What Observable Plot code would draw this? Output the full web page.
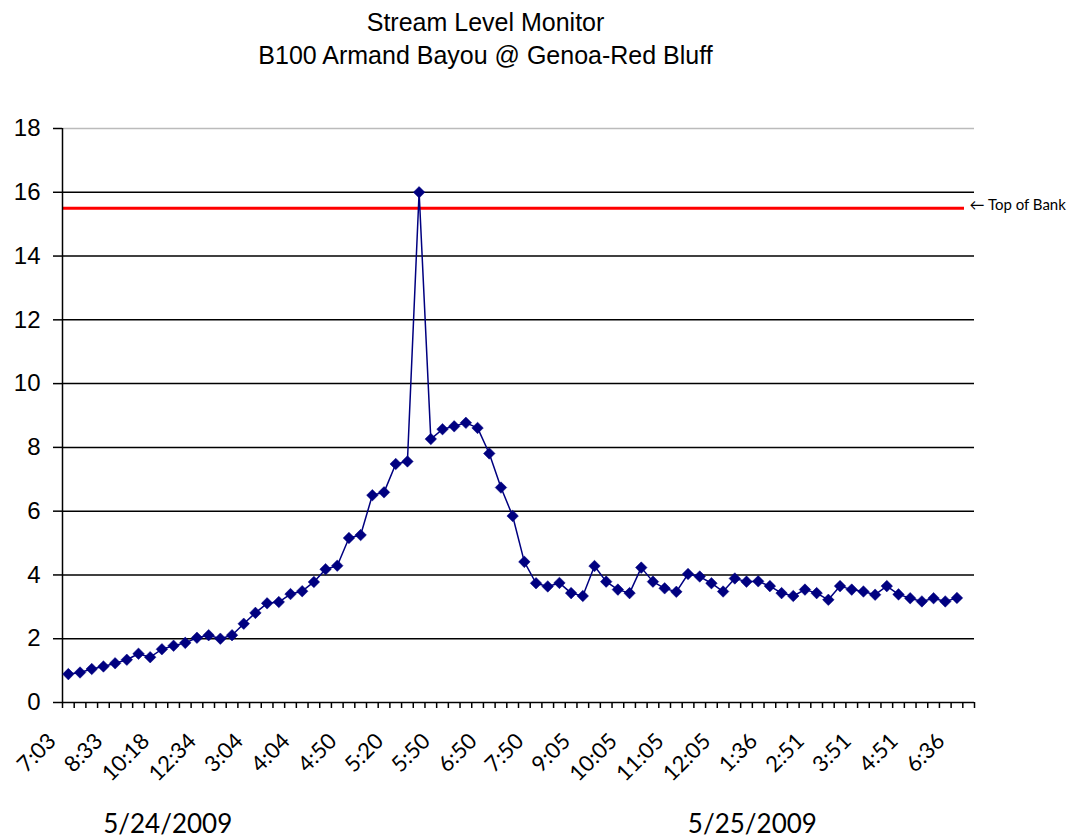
<!DOCTYPE html>
<html>
<head>
<meta charset="utf-8">
<script src="https://cdn.jsdelivr.net/npm/d3@7"></script>
<script src="https://cdn.jsdelivr.net/npm/@observablehq/plot@0.6"></script>
<style>
  html, body { margin: 0; padding: 0; background: #fff; overflow: hidden; }
  #chart svg { display: block; }
</style>
</head>
<body>
<div id="chart"></div>
<script>
// ---- data ----
const titleLines = ["Stream Level Monitor", "B100 Armand Bayou @ Genoa-Red Bluff"];
// stream level readings (ft), one per reading slot, in order
const levels = [
  0.89, 0.94, 1.05, 1.13, 1.23, 1.34, 1.53, 1.42, 1.67, 1.78,
  1.87, 2.03, 2.11, 2.00, 2.11, 2.47, 2.81, 3.11, 3.15, 3.40,
  3.49, 3.78, 4.18, 4.29, 5.16, 5.25, 6.50, 6.59, 7.48, 7.56,
  16.0, 8.26, 8.57, 8.66, 8.77, 8.61, 7.81, 6.74, 5.85, 4.41,
  3.74, 3.64, 3.75, 3.43, 3.34, 4.28, 3.79, 3.54, 3.43, 4.23,
  3.79, 3.58, 3.47, 4.03, 3.95, 3.74, 3.48, 3.89, 3.79, 3.80,
  3.65, 3.43, 3.34, 3.54, 3.43, 3.22, 3.65, 3.54, 3.48, 3.38,
  3.65, 3.39, 3.27, 3.17, 3.27, 3.17, 3.28
];
// category slots on the axis (one trailing empty slot)
const slotCount = 78;
// time labels shown on every 4th slot
const labelEvery = 4;
const timeLabels = ["7:03","8:33","10:18","12:34","3:04","4:04","4:50","5:20","5:50","6:50",
                    "7:50","9:05","10:05","11:05","12:05","1:36","2:51","3:51","4:51","6:36"];
const dateLabels = ["5/24/2009", "5/25/2009"];
const yTicks = [0, 2, 4, 6, 8, 10, 12, 14, 16, 18];
const topOfBank = 15.5;
const topOfBankLabel = "\u2190 Top of Bank";

// ---- derived tables ----
const data = levels.map((v, i) => ({slot: i + 0.5, level: v}));
const labelTable = timeLabels.map((t, k) => ({slot: k * labelEvery + 0.5, label: t}));
const slotEdges = d3.range(0, slotCount + 1);
const dateSlots = [labelTable[2].slot + 0.5, labelTable[14].slot + 2.5];

const W = 1069, H = 837;
const mL = 62, mR = 95, mT = 128, mB = 135;
const arialLike = "'Liberation Sans', Arial, sans-serif";
const calibriLike = "Lato, 'Open Sans', 'DejaVu Sans', sans-serif";

const chart = Plot.plot({
  width: W,
  height: H,
  marginLeft: mL,
  marginRight: mR,
  marginTop: mT,
  marginBottom: mB,
  style: {fontFamily: arialLike, background: "#fff", color: "#000", overflow: "visible"},
  x: {type: "linear", domain: [0, slotCount], axis: null},
  y: {domain: [0, 18], axis: null},
  marks: [
    // gridlines
    Plot.ruleY(yTicks.filter(t => t > 0 && t < 18), {stroke: "#000", strokeWidth: 1.5}),
    Plot.ruleY([18], {stroke: "#bbb", strokeWidth: 1.5}),
    // top of bank
    Plot.ruleY([topOfBank], {stroke: "#ff0000", strokeWidth: 3, insetRight: 10}),
    Plot.text([topOfBankLabel], {
      x: () => slotCount, y: () => topOfBank,
      textAnchor: "start", dx: -5, dy: -3, fontSize: 15, fontFamily: calibriLike, fill: "#000"
    }),
    // axes lines
    Plot.ruleY([0], {stroke: "#000", strokeWidth: 1.5}),
    Plot.ruleX([0], {stroke: "#000", strokeWidth: 1.5}),
    // y axis ticks + labels
    Plot.axisY({ticks: yTicks, tickSize: 9, tickFormat: () => "", stroke: "#000", strokeWidth: 1.5, label: null}),
    Plot.text(yTicks, {y: d => d, x: () => 0, textAnchor: "end", dx: -22, fontSize: 24, fontFamily: arialLike, fill: "#000"}),
    // x tick marks at slot edges
    Plot.axisX({ticks: slotEdges, tickSize: 6, tickFormat: () => "", stroke: "#000", strokeWidth: 1.5, label: null}),
    // x time labels
    Plot.text(labelTable, {x: "slot", y: () => 0, text: "label", textAnchor: "end", rotate: -45,
                           dx: -16, dy: 35, fontSize: 22, fontFamily: calibriLike, fill: "#000"}),
    // series
    Plot.line(data, {x: "slot", y: "level", stroke: "#000080", strokeWidth: 1.5}),
    Plot.dot(data, {x: "slot", y: "level", symbol: "diamond2", r: 5.2, fill: "#000080", stroke: "#000080", strokeWidth: 0.5}),
    // titles
    Plot.text([titleLines[0]], {frameAnchor: "top", dx: -33, dy: -115, fontSize: 25, fill: "#000"}),
    Plot.text([titleLines[1]], {frameAnchor: "top", dx: -33, dy: -82, fontSize: 25, fill: "#000"}),
    // dates
    Plot.text(dateLabels, {x: (d, i) => dateSlots[i], frameAnchor: "bottom", dy: 130, fontSize: 26, fontFamily: calibriLike, fill: "#000"})
  ]
});
document.getElementById("chart").appendChild(chart);
</script>
</body>
</html>
